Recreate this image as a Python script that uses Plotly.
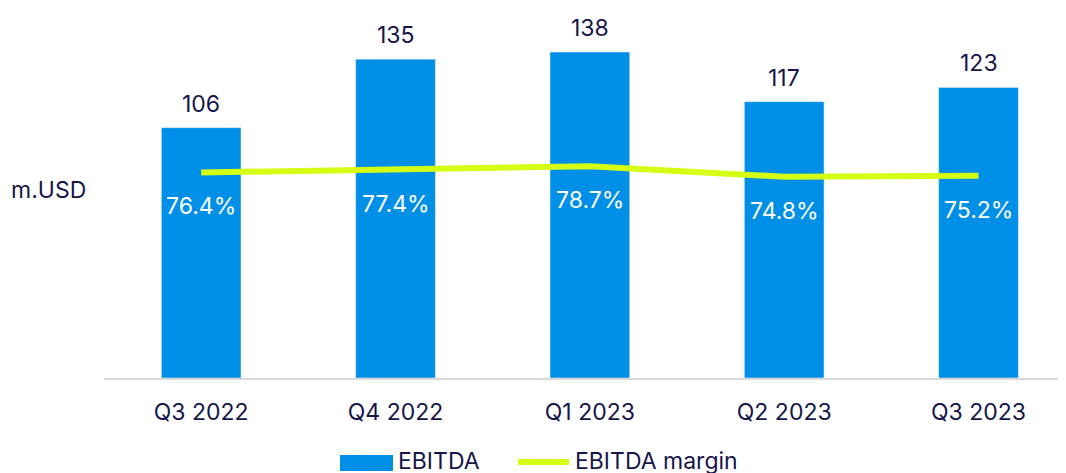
import plotly.graph_objects as go

categories = ["Q3 2022", "Q4 2022", "Q1 2023", "Q2 2023", "Q3 2023"]
ebitda = [106, 135, 138, 117, 123]
margin = [76.4, 77.4, 78.7, 74.8, 75.2]
margin_labels = ["76.4%", "77.4%", "78.7%", "74.8%", "75.2%"]

BLUE = "#008fe6"
GREEN = "#d4ff14"
NAVY = "#16164a"
FONT = "Inter, Open Sans, sans-serif"
FS = 23

OFF = 8  # default page body margin
W, H = 1058, 465
L, R, T, B = 96, 0, 2, 95
PW, PH = W - L - R, H - T - B

def px(x):
    return (x - OFF - L) / PW

def py(y):
    return (H - B - (y - OFF)) / PH

fig = go.Figure()
fig.add_trace(go.Bar(x=list(range(5)), y=ebitda, marker_color=BLUE, width=0.41,
                     name="EBITDA", showlegend=False, hoverinfo="skip"))
fig.add_trace(go.Scatter(x=list(range(5)), y=margin, yaxis="y2", mode="lines",
                         line=dict(color=GREEN, width=6), name="EBITDA margin",
                         showlegend=False, hoverinfo="skip"))

ann = []
for i, v in enumerate(ebitda):
    ann.append(dict(x=i, y=v, xref="x", yref="y", text=str(v), showarrow=False,
                    yanchor="middle", yshift=24, font=dict(size=FS, color=NAVY, family=FONT)))
for i, v in enumerate(margin):
    ann.append(dict(x=i, y=v, xref="x", yref="y2", text=margin_labels[i], showarrow=False,
                    yanchor="middle", yshift=-34, font=dict(size=FS, color="white", family=FONT)))
ann.append(dict(x=px(9), y=py(190), xref="paper", yref="paper", text="m.USD", showarrow=False,
                xanchor="left", yanchor="middle", font=dict(size=FS, color=NAVY, family=FONT)))
ann.append(dict(x=px(396), y=py(461), xref="paper", yref="paper", text="EBITDA", showarrow=False,
                xanchor="left", yanchor="middle", font=dict(size=FS, color=NAVY, family=FONT)))
ann.append(dict(x=px(573), y=py(461), xref="paper", yref="paper", text="EBITDA margin", showarrow=False,
                xanchor="left", yanchor="middle", font=dict(size=FS, color=NAVY, family=FONT)))

shapes = [
    dict(type="rect", xref="paper", yref="paper", x0=px(340), x1=px(393), y0=py(471), y1=py(455),
         fillcolor=BLUE, line=dict(width=0)),
    dict(type="line", xref="paper", yref="paper", x0=px(518), x1=px(569), y0=py(462), y1=py(462),
         line=dict(color=GREEN, width=6)),
]

fig.update_layout(
    width=W, height=H, margin=dict(l=L, r=R, t=T, b=B),
    paper_bgcolor="white", plot_bgcolor="white",
    font=dict(family=FONT, size=FS, color=NAVY),
    showlegend=False, annotations=ann, shapes=shapes,
    xaxis=dict(range=[-0.5, 4.45], tickmode="array", tickvals=list(range(5)), ticktext=categories,
               showgrid=False, zeroline=False, showline=True, linecolor="#d9d9d9", linewidth=2,
               ticks="outside", ticklen=12, tickcolor="rgba(0,0,0,0)",
               tickfont=dict(size=FS, color=NAVY, family=FONT)),
    yaxis=dict(range=[0, 155.8], visible=False, showgrid=False, zeroline=False),
    yaxis2=dict(range=[0, 136.8], overlaying="y", side="right", visible=False,
                showgrid=False, zeroline=False),
    bargap=0.59,
)

fig.write_html("out.html")
